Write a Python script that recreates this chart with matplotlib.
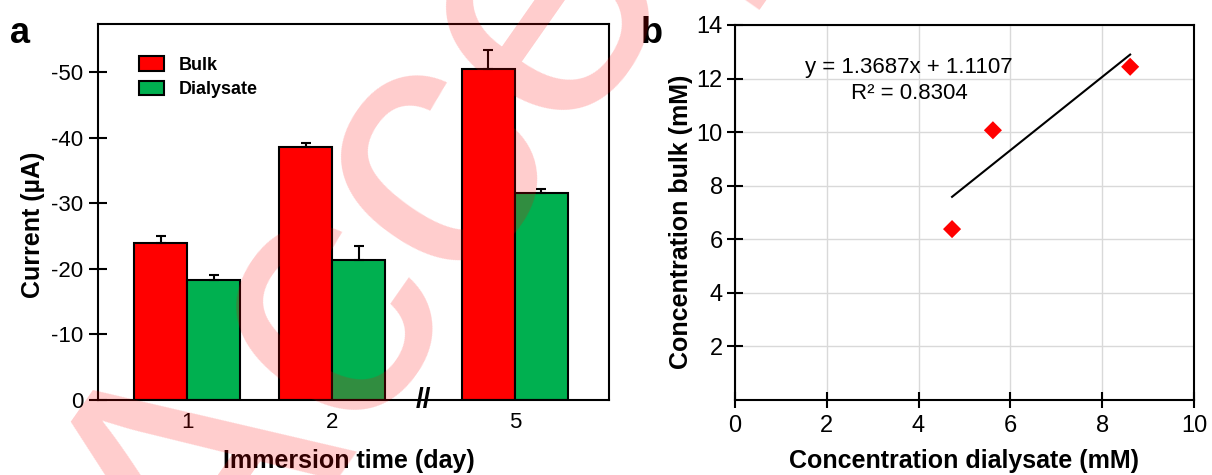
import numpy as np
import matplotlib
matplotlib.use('Agg')
import matplotlib.pyplot as plt

plt.rcParams['font.family'] = ['Liberation Sans', 'DejaVu Sans']
plt.rcParams['axes.unicode_minus'] = False

# datos panel a (corriente, uA)
days = ['1', '2', '5']
bulk = [-24.0, -38.6, -50.4]
bulk_err = [1.0, 0.6, 3.0]
dialysate = [-18.3, -21.3, -31.5]
dialysate_err = [0.7, 2.1, 0.7]

# datos panel b (mM)
conc_dialysate = [4.73, 5.62, 8.61]
conc_bulk = [6.38, 10.07, 12.44]
slope = 1.3687
intercept = 1.1107
r2 = 0.8304

fig = plt.figure(figsize=(12.12, 4.75), dpi=100)

# ---------- panel a ----------
ax1 = fig.add_axes([0.0809, 0.1579, 0.4216, 0.7916])
xpos = np.array([0, 1, 2.26])
w = 0.366
zeros = np.zeros(len(days))
ax1.bar(xpos - w / 2, bulk, w, color='#ff0000', edgecolor='black', linewidth=1.5,
        label='Bulk', zorder=2)
ax1.bar(xpos + w / 2, dialysate, w, color='#00b050', edgecolor='black', linewidth=1.5,
        label='Dialysate', zorder=2)
ax1.errorbar(xpos - w / 2, bulk, yerr=[bulk_err, zeros], fmt='none', ecolor='black',
             elinewidth=1.5, capsize=3.5, capthick=1.5, zorder=3)
ax1.errorbar(xpos + w / 2, dialysate, yerr=[dialysate_err, zeros], fmt='none', ecolor='black',
             elinewidth=1.5, capsize=3.5, capthick=1.5, zorder=3)

ax1.set_xlim(-0.614, 2.91)
ax1.set_ylim(0, -57.3)
ax1.set_xticks(xpos)
ax1.set_xticklabels(days)
ax1.set_yticks([0, -10, -20, -30, -40, -50])
ax1.tick_params(axis='x', length=0, pad=9, labelsize=16)
ax1.tick_params(axis='y', direction='inout', length=13, width=1.5, pad=4, labelsize=16)
for s in ax1.spines.values():
    s.set_linewidth(1.5)
ax1.text(1.63, 0, '//', ha='center', va='center', fontsize=20, fontweight='bold',
         clip_on=False)

ax1.set_ylabel('Current (µA)', fontsize=18, fontweight='bold')
ax1.yaxis.set_label_coords(-0.104, 0.465)
ax1.set_xlabel('Immersion time (day)', fontsize=18, fontweight='bold')
ax1.xaxis.set_label_coords(0.49, -0.13)

ax1.legend(loc='upper left', bbox_to_anchor=(0.08, 0.914), frameon=False,
           borderaxespad=0, borderpad=0, handlelength=1.4, handleheight=0.85,
           handletextpad=0.8, labelspacing=0.38,
           prop={'size': 13, 'weight': 'bold'})

# ---------- panel b ----------
ax2 = fig.add_axes([0.6064, 0.1579, 0.3787, 0.7895])
ax2.scatter(conc_dialysate, conc_bulk, marker='D', s=85, color='#ff0000',
            edgecolors='none', zorder=3)
xfit = np.array([min(conc_dialysate), max(conc_dialysate)])
ax2.plot(xfit, slope * xfit + intercept, color='black', linewidth=1.5, zorder=2)
ax2.text(3.79, 11.93, f'y = {slope}x + {intercept}\nR² = {r2}', ha='center', va='center',
         fontsize=16, linespacing=1.3)

ax2.set_xlim(0, 10)
ax2.set_ylim(0, 14)
ax2.set_xticks([0, 2, 4, 6, 8, 10])
ax2.set_yticks([2, 4, 6, 8, 10, 12, 14])
ax2.grid(True, color='#d9d9d9', linewidth=1)
ax2.set_axisbelow(True)
ax2.tick_params(direction='inout', length=11.5, width=1.5, labelsize=17)
ax2.tick_params(axis='x', pad=5)
ax2.tick_params(axis='y', pad=3)
for s in ax2.spines.values():
    s.set_linewidth(1.5)

ax2.set_ylabel('Concentration bulk (mM)', fontsize=18, fontweight='bold')
ax2.yaxis.set_label_coords(-0.0915, 0.475)
ax2.set_xlabel('Concentration dialysate (mM)', fontsize=18, fontweight='bold')
ax2.xaxis.set_label_coords(0.5, -0.13)

# letras de panel
fig.text(10 / 1212, 1 - 43 / 475, 'a', fontsize=26, fontweight='bold', ha='left', va='baseline')
fig.text(641 / 1212, 1 - 43 / 475, 'b', fontsize=26, fontweight='bold', ha='left', va='baseline')

# marca de agua
fig.text(0.1795, -0.3697, 'Accepted', fontsize=263, color='#ff0000', alpha=0.2,
         rotation=55, rotation_mode='anchor', ha='left', va='baseline', zorder=10)

fig.savefig('out.png', dpi=100)
